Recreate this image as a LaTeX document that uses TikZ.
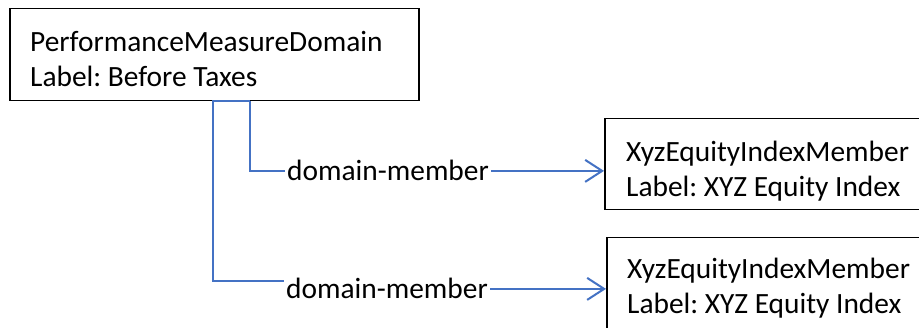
\documentclass[tikz,border=0pt]{standalone}
\usepackage{fontspec}
\setmainfont{Carlito}
\usetikzlibrary{arrows.meta}
\definecolor{linkblue}{RGB}{68,114,196}
\tikzset{
  boxnode/.style={draw=black, line width=1.5pt, inner sep=0pt, anchor=north west},
  txt/.style={anchor=base west, inner sep=0pt, text=black, font=\fontsize{29.4}{35}\selectfont},
  relabel/.style={anchor=base west, inner sep=2pt, text=black, font=\fontsize{29.4}{35}\selectfont},
  conn/.style={draw=linkblue, line width=2pt},
  arr/.style={conn, -{Straight Barb[length=17pt,width=22pt,line width=2pt]}}
}
\begin{document}
\frenchspacing
\begin{tikzpicture}[x=1pt,y=-1pt]
\useasboundingbox (0,0) rectangle (919,328);
\clip (0,0) rectangle (919,328);
\fill[white] (0,0) rectangle (919,328);
% boxes
\node[boxnode, minimum width=409pt, minimum height=92pt] (dom) at (9,8) {};
\node[boxnode, minimum width=330pt, minimum height=91pt] (mem1) at (604,118) {};
\node[boxnode, minimum width=330pt, minimum height=110pt] (mem2) at (606,237) {};
% box texts
\node[txt] (domt1) at (30,52) {PerformanceMeasureDomain};
\node[txt] (domt2) at (30,87) {Label: Before Taxes};
\node[txt] (m1t1) at (626,162) {XyzEquityIndexMember};
\node[txt] (m1t2) at (626,197) {Label: XYZ Equity Index};
\node[txt] (m2t1) at (627,279) {XyzEquityIndexMember};
\node[txt] (m2t2) at (627,314) {Label: XYZ Equity Index};
% connector labels
\node[relabel] (lab1) at (285,181) {domain-member};
\node[relabel] (lab2) at (284,299) {domain-member};
% connectors
\coordinate (s1) at (250,101);
\coordinate (s2) at (213,101);
\draw[conn] (s1) |- (lab1.west);
\draw[arr] (lab1.east) -- (lab1.east -| mem1.west);
\draw[conn] (s1) -- (s2) |- ([yshift=8pt]lab2.west);
\draw[arr] (lab2.east) -- (lab2.east -| mem2.west);
\end{tikzpicture}
\end{document}
